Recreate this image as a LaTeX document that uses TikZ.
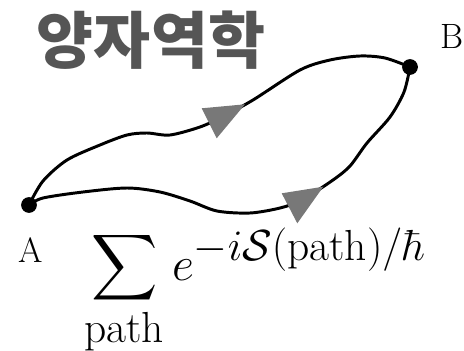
\RequirePackage{fix-cm}
\documentclass[tikz,border=0pt]{standalone}
\usepackage{amsmath}
\usepackage{fontspec}
\newfontfamily\krfont{Noto Sans CJK KR}
\DeclareMathSizes{26}{26}{23.5}{18}
\usetikzlibrary{positioning}
\definecolor{Slate}{HTML}{555555}
\definecolor{Pointer}{HTML}{787878}
\tikzset{
  endpoint/.style={
    circle, fill=black, minimum size=0.3cm, inner sep=0pt
  },
  pointlabel/.style={
    inner sep=0pt, font=\fontsize{19}{22}\selectfont
  },
  heading/.style={
    inner sep=0pt, text=Slate, font=\krfont\bfseries\fontsize{33.5}{38}\selectfont
  },
  formula/.style={inner sep=0pt, font=\fontsize{26}{30}\selectfont},
  route/.style={line width=1.6pt, draw=black},
  pointer/.style={fill=Pointer}
}

\begin{document}
\begin{tikzpicture}[x=0.019cm, y=-0.019cm]
    \useasboundingbox (0,0) rectangle (464,351);
    \node[heading] (title) at (151,40) {양자역학};
    \coordinate (a) at (29,205);
    \coordinate (b) at (410,67);
    % two of the paths from A to B
    \draw[route] plot[smooth] coordinates {(a) (43,181) (67,160) (100,145)
      (127,135) (147,133) (170,135) (200,127) (222,117) (253,100) (300,70)
      (330,60) (360,56) (385,58) (b)};
    \draw[route] plot[smooth] coordinates {(a) (43,198) (83,192) (127,188)
      (160,192) (190,201) (217,211) (250,213) (280,208) (302,200) (333,180)
      (350,166) (367,143) (390,117) (404,92) (b)};
    \fill[pointer] (201.7,108.3) -- (245,104.3) -- (216.7,138.3) -- cycle;
    \fill[pointer] (281.7,193.3) -- (323.3,186.7) -- (297.3,223.3) -- cycle;
    \node[endpoint] (A) at (a) {};
    \node[endpoint] (B) at (b) {};
    \node[pointlabel,anchor=base] (alabel) at (31,262) {A};
    \node[pointlabel,anchor=base] (blabel) at (452,49) {B};
    \node[formula,anchor=base west] (sum) at (84,280)
      {$\displaystyle\sum_{\text{path}} e^{-i\mathcal{S}(\text{path})/\hbar}$};
  \end{tikzpicture}
\end{document}
